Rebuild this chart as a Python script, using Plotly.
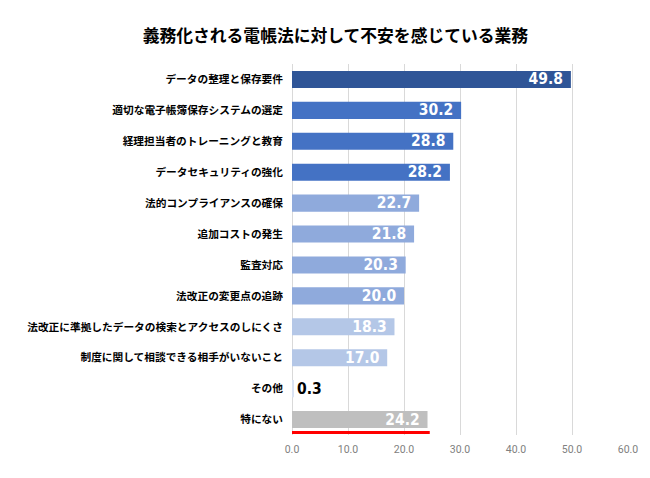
import plotly.graph_objects as go

categories = [
    "データの整理と保存要件",
    "適切な電子帳簿保存システムの選定",
    "経理担当者のトレーニングと教育",
    "データセキュリティの強化",
    "法的コンプライアンスの確保",
    "追加コストの発生",
    "監査対応",
    "法改正の変更点の追跡",
    "法改正に準拠したデータの検索とアクセスのしにくさ",
    "制度に関して相談できる相手がいないこと",
    "その他",
    "特にない",
]
values = [49.8, 30.2, 28.8, 28.2, 22.7, 21.8, 20.3, 20.0, 18.3, 17.0, 0.3, 24.2]
colors = ["#2F5597", "#4472C4", "#4472C4", "#4472C4",
          "#8FAADC", "#8FAADC", "#8FAADC", "#8FAADC",
          "#B4C7E7", "#B4C7E7", "#DAE3F3", "#BFBFBF"]
text_pos = ["inside"] * 10 + ["outside", "inside"]
text_colors = ["white"] * 10 + ["black", "white"]
x_ticks = [0, 10, 20, 30, 40, 50, 60]

title = "義務化される電帳法に対して不安を感じている業務"
jp = "Noto Sans CJK JP"
num_font = "DejaVu Sans Condensed, Liberation Sans Narrow, Roboto, Arial"

fig = go.Figure(go.Bar(
    x=values, y=categories, orientation="h",
    marker=dict(color=colors, line=dict(width=0)),
    width=0.55,
    texttemplate=["%{x:.1f} "] * 10 + ["%{x:.1f}", "%{x:.1f} "],
    textposition=text_pos,
    insidetextanchor="end",
    constraintext="none",
    cliponaxis=False,
    textfont=dict(color=text_colors, size=15.5, family=num_font, weight="bold"),
))

fig.add_shape(type="line", xref="x", yref="paper",
              x0=-9.8, x1=24.6, y0=0.007, y1=0.007,
              line=dict(color="#FF0000", width=3))

fig.update_layout(
    width=650, height=478,
    margin=dict(l=292, r=22, t=63.5, b=42.5, autoexpand=False),
    paper_bgcolor="white", plot_bgcolor="white",
    title=dict(text=title, x=0.516, xanchor="center", y=0.925, yanchor="middle",
               automargin=False,
               font=dict(family=jp, size=16.8, color="black", weight="bold")),
    showlegend=False,
    bargap=0.45,
)
fig.update_xaxes(range=[0, 60], tickvals=x_ticks, tickformat=".1f",
                 automargin=False,
                 showgrid=True, gridcolor="#D9D9D9", gridwidth=1,
                 zeroline=True, zerolinecolor="#D9D9D9", zerolinewidth=1,
                 showline=False, ticks="", ticklabelstandoff=6,
                 tickfont=dict(family="Roboto, Arial", size=10.5, color="#808080"))
fig.update_yaxes(autorange="reversed", showgrid=False, ticks="",
                 automargin=False,
                 ticklabelstandoff=8, showline=False,
                 tickfont=dict(family=jp, size=10.7, color="black", weight="bold"))

fig.write_html(
    "out.html",
    config={"displayModeBar": False},
    post_script="document.body.style.margin='0';document.body.style.padding='0';",
)
